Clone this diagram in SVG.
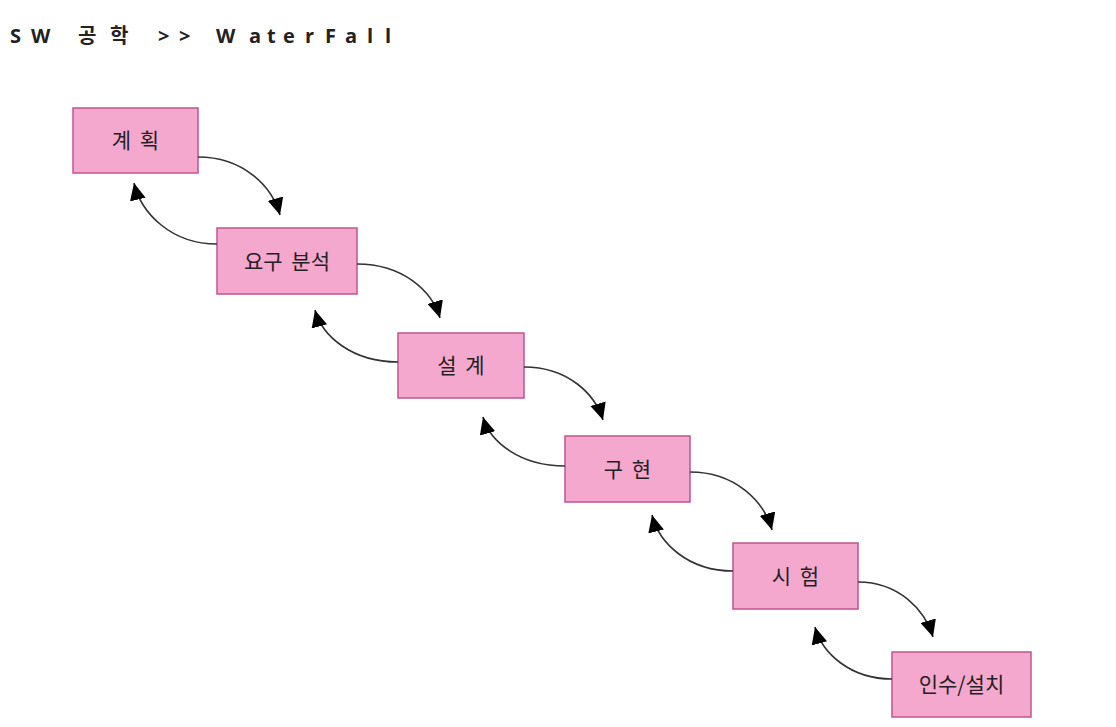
<svg xmlns="http://www.w3.org/2000/svg" width="1116" height="727" viewBox="0 0 1116 727">
<style>
.box{fill:#F5A8CE;stroke:#BE5590;stroke-width:1.5}
.lbl{font-family:"Noto Sans CJK KR","Noto Sans",sans-serif;font-size:21px;font-weight:normal;fill:#222;text-anchor:middle;word-spacing:4px}
.title{font-family:"Open Sans","Noto Sans CJK KR",sans-serif;font-size:20px;font-weight:bold;fill:#222}
.con{fill:none;stroke:#333;stroke-width:1.6;marker-end:url(#ah)}
</style>
<defs>
<marker id="ah" markerUnits="userSpaceOnUse" markerWidth="18" markerHeight="16" refX="17" refY="8" orient="auto">
<path d="M0,0 L17,8 L0,16 z" fill="#000"/>
</marker>
</defs>
<rect width="1116" height="727" fill="#fff"/>
<text class="title" x="10 31 60 78 110 140 158 179 200 216 249 267 283 305 325 345 367 385" y="43">SW 공학 &gt;&gt; WaterFall</text>
<g id="n1"><rect class="box" x="73" y="108" width="125" height="65"/><text class="lbl" x="135.5" y="148">계 획</text></g>
<g id="n2"><rect class="box" x="217" y="228" width="140" height="66"/><text class="lbl" x="287" y="268.5">요구 분석</text></g>
<g id="n3"><rect class="box" x="398" y="333" width="126" height="65"/><text class="lbl" x="461" y="373">설 계</text></g>
<g id="n4"><rect class="box" x="565" y="436" width="125" height="66"/><text class="lbl" x="627.5" y="476.5">구 현</text></g>
<g id="n5"><rect class="box" x="733" y="543" width="125" height="66"/><text class="lbl" x="795.5" y="583.5">시 험</text></g>
<g id="n6"><rect class="box" x="892" y="652" width="139" height="65"/><text class="lbl" x="961.5" y="692">인수/설치</text></g>
<g id="connectors">
<path class="con" d="M198,157 C243,157 272,186 280,215"/>
<path class="con" d="M357,264 C403,264 432,291 440,318"/>
<path class="con" d="M524,367 C568,367 595,394 603,420"/>
<path class="con" d="M690,472 C735,472 764,501 772,530"/>
<path class="con" d="M858,582 C899,582 925,610 933,637"/>
<path class="con" d="M217,244 C171,244 141,213 134,183"/>
<path class="con" d="M398,362 C352,362 322,336 315,310"/>
<path class="con" d="M565,466 C520,466 490,442 483,417"/>
<path class="con" d="M733,571 C688,571 659,543 652,515"/>
<path class="con" d="M892,679 C850,679 822,653 815,627"/>
</g>
</svg>
